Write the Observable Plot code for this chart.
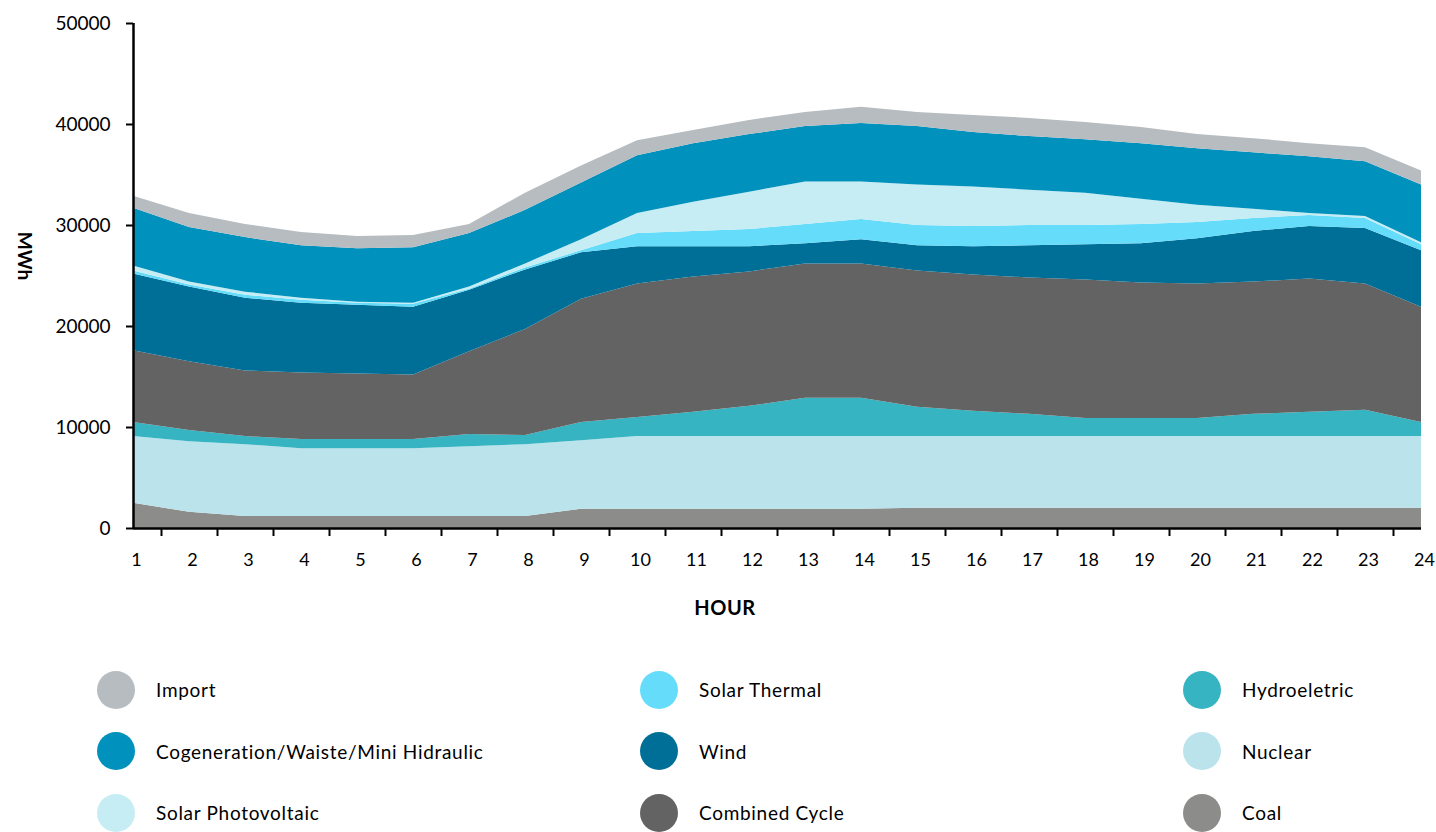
<!DOCTYPE html>
<html><head><meta charset="utf-8">
<script src="https://cdn.jsdelivr.net/npm/d3@7"></script>
<script src="https://cdn.jsdelivr.net/npm/@observablehq/plot@0.6"></script>
<style>
body{margin:0;background:#fff;font-family:Lato, sans-serif;color:#000;}
#wrap{position:relative;width:1436px;height:832px;overflow:hidden;}
#chart svg{display:block;}
.ylab{position:absolute;left:25px;top:256px;transform:translate(-50%,-50%) rotate(90deg);font-weight:700;font-size:19px;white-space:nowrap;}
.xlab{position:absolute;left:725px;top:607px;transform:translate(-50%,-50%);font-weight:700;font-size:20px;letter-spacing:0.5px;}
#legend{position:absolute;left:0;top:659px;display:grid;grid-template-columns:543px 543px 300px;grid-auto-rows:61.5px;padding-left:97px;}
.item{display:flex;align-items:center;font-size:19px;letter-spacing:0.7px;white-space:nowrap;}
.sw{width:38px;height:38px;border-radius:50%;margin-right:21px;flex:none;}
</style></head><body>
<div id="wrap"><div id="chart"></div><div class="ylab">MWh</div><div class="xlab">HOUR</div><div id="legend"></div></div>
<script>
const hours = [1,2,3,4,5,6,7,8,9,10,11,12,13,14,15,16,17,18,19,20,21,22,23,24];
const coal     = [2500,1600,1200,1200,1200,1200,1200,1200,1900,1900,1900,1900,1900,1900,2000,2000,2000,2000,2000,2000,2000,2000,2000,2000];
const nuclear  = [6600,7000,7100,6700,6700,6700,6900,7100,6800,7200,7200,7200,7200,7200,7100,7100,7100,7100,7100,7100,7100,7100,7100,7100];
const hydro    = [1400,1100,800,900,900,900,1200,900,1800,1900,2400,3000,3800,3800,2900,2500,2200,1800,1800,1800,2200,2400,2600,1400];
const combined = [7100,6800,6500,6600,6500,6400,8200,10500,12200,13200,13400,13300,13300,13300,13500,13500,13500,13700,13400,13300,13100,13200,12500,11400];
const wind     = [7600,7400,7200,6900,6800,6700,6100,5900,4600,3700,3000,2500,2000,2400,2500,2800,3200,3500,3900,4500,5000,5200,5500,5600];
const solarThermal = [300,200,300,300,200,300,100,200,200,1300,1500,1700,1900,2000,2000,2000,2000,1900,1900,1600,1300,1100,1000,600];
const solarPV  = [500,300,300,200,100,100,200,400,1100,2000,2900,3700,4200,3700,4000,3900,3500,3200,2500,1700,900,200,200,200];
const cogeneration = [5700,5400,5400,5200,5300,5500,5300,5300,5600,5700,5800,5700,5500,5800,5800,5400,5300,5300,5500,5600,5600,5600,5400,5700];
const imports  = [1200,1400,1300,1300,1200,1200,900,1700,1700,1500,1300,1400,1400,1600,1400,1700,1800,1700,1600,1400,1400,1300,1400,1400];

const yTicks = [0,10000,20000,30000,40000,50000];
const halfHours = hours.slice(0,-1).map(h => h + 0.5);

// stacking order, bottom to top
const stackNames = ["Coal","Nuclear","Hydroeletric","Combined Cycle","Wind","Solar Thermal","Solar Photovoltaic","Cogeneration/Waiste/Mini Hidraulic","Import"];
const stackValues = [coal,nuclear,hydro,combined,wind,solarThermal,solarPV,cogeneration,imports];
const stackColors = ["#8c8d8a","#bae3ec","#36b4c2","#636363","#006f97","#64dcfa","#c6ecf4","#0091bd","#b6bcbf"];

// legend order (row-major)
const legendNames = ["Import","Solar Thermal","Hydroeletric","Cogeneration/Waiste/Mini Hidraulic","Wind","Nuclear","Solar Photovoltaic","Combined Cycle","Coal"];

const rows = stackNames.flatMap((name, k) => hours.map((h, i) => ({hour: h, value: stackValues[k][i], source: name})));

const chart = Plot.plot({
  width: 1436, height: 640,
  marginLeft: 133, marginRight: 15, marginTop: 23, marginBottom: 112,
  style: {fontFamily: "Lato, sans-serif", fontSize: "18px", color: "#000", background: "transparent", overflow: "visible"},
  x: {domain: [1, 24], label: null},
  y: {domain: [0, 50000], label: null},
  color: {domain: stackNames, range: stackColors},
  marks: [
    Plot.areaY(rows, {x: "hour", y: "value", z: "source", fill: "source", order: stackNames}),
    Plot.axisY({ticks: yTicks, tickSize: 7, tickPadding: 16, tickFormat: d => String(d), fontSize: 19, strokeWidth: 2, label: null}),
    Plot.axisX({ticks: halfHours, tickSize: 8, tickFormat: () => "", strokeWidth: 2, label: null}),
    Plot.axisX({ticks: hours, tickSize: 0, tickPadding: 25, dx: 3, fontSize: 18, label: null}),
    Plot.ruleX([1], {y1: 0, y2: 50000, strokeWidth: 2.5}),
    Plot.ruleY([0], {x1: 1, x2: 24, strokeWidth: 2.5})
  ]
});
document.getElementById("chart").appendChild(chart);

const legend = document.getElementById("legend");
legendNames.forEach(name => {
  const item = document.createElement("div");
  item.className = "item";
  const sw = document.createElement("span");
  sw.className = "sw";
  sw.style.background = stackColors[stackNames.indexOf(name)];
  const t = document.createElement("span");
  t.textContent = name;
  item.appendChild(sw); item.appendChild(t);
  legend.appendChild(item);
});
</script>
</body></html>
